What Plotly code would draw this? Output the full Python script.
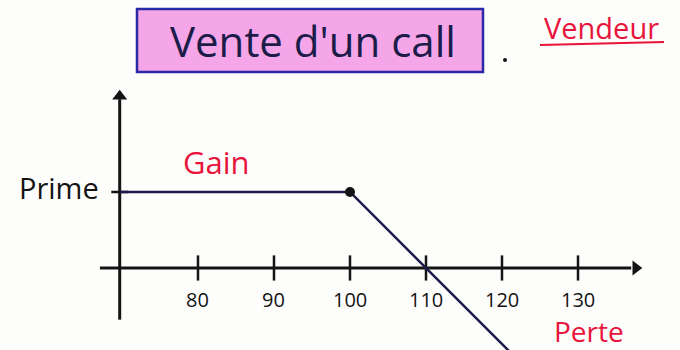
import plotly.graph_objects as go

# Short call payoff (seller side): premium kept up to the strike, then a loss
strike_ticks = [80, 90, 100, 110, 120, 130]
tick_labels = ["80", "90", "100", "110", "120", "130"]
spot_points = [69.7, 100, 123]
payoff_points = [10, 10, -13]
strike_price = 100
premium = 10

INK = "#141414"
NAVY = "#1c1c48"
RED = "#e8143c"
FONT = "Open Sans"

fig = go.Figure()

# Vertical (payoff) axis with arrowhead
fig.add_trace(go.Scatter(x=[69.7, 69.7], y=[-6.8, 22.2], mode="lines",
                         line=dict(color=INK, width=3), hoverinfo="skip"))
fig.add_trace(go.Scatter(x=[69.7], y=[22.6], mode="markers",
                         marker=dict(symbol="triangle-up", size=13, color=INK),
                         hoverinfo="skip"))

# Horizontal (spot price) axis with arrowhead
fig.add_trace(go.Scatter(x=[67.1, 137.0], y=[0, 0], mode="lines",
                         line=dict(color=INK, width=3), hoverinfo="skip"))
fig.add_trace(go.Scatter(x=[137.6], y=[0], mode="markers",
                         marker=dict(symbol="triangle-right", size=13, color=INK),
                         hoverinfo="skip"))

# Tick marks on the spot axis
fig.add_trace(go.Scatter(x=strike_ticks, y=[0] * len(strike_ticks), mode="markers",
                         marker=dict(symbol="line-ns", size=18,
                                     line=dict(color=INK, width=2.5)),
                         hoverinfo="skip"))

# Premium tick on the payoff axis
fig.add_trace(go.Scatter(x=[69.7], y=[premium], mode="markers",
                         marker=dict(symbol="line-ew", size=12,
                                     line=dict(color=INK, width=2.5)),
                         hoverinfo="skip"))

# Payoff line
fig.add_trace(go.Scatter(x=spot_points, y=payoff_points, mode="lines",
                         line=dict(color=NAVY, width=2.5), hoverinfo="skip"))

# Strike point
fig.add_trace(go.Scatter(x=[strike_price], y=[premium], mode="markers",
                         marker=dict(size=10, color=INK), hoverinfo="skip"))

center = dict(xanchor="center", yanchor="middle", showarrow=False)

annotations = []
for s, lab in zip(strike_ticks, tick_labels):
    annotations.append(dict(x=s, y=-4.2, xref="x", yref="y", text=lab, **center,
                            font=dict(family=FONT, size=20, color=INK)))

annotations += [
    dict(x=67.3, y=10.6, xref="x", yref="y", text="Prime", showarrow=False,
         xanchor="right", yanchor="middle",
         font=dict(family=FONT, size=29, color=INK)),
    dict(x=82.5, y=13.9, xref="x", yref="y", text="Gain", **center,
         font=dict(family=FONT, size=31, color=RED)),
    dict(x=131.4, y=-8.3, xref="x", yref="y", text="Perte", **center,
         font=dict(family=FONT, size=28, color=RED)),
    dict(x=313 / 680, y=1 - 40 / 350, xref="paper", yref="paper",
         text="Vente d'un call", **center,
         font=dict(family=FONT, size=42, color=NAVY)),
    dict(x=601 / 680, y=1 - 27 / 350, xref="paper", yref="paper",
         text="Vendeur", **center,
         font=dict(family=FONT, size=29, color=RED)),
]

shapes = [
    dict(type="rect", xref="paper", yref="paper",
         x0=137 / 680, x1=483 / 680, y0=1 - 72 / 350, y1=1 - 9 / 350,
         fillcolor="#f4a6e8", line=dict(color="#2a2aa8", width=2.5), layer="below"),
    dict(type="line", xref="paper", yref="paper",
         x0=540 / 680, x1=664 / 680, y0=1 - 45 / 350, y1=1 - 42 / 350,
         line=dict(color=RED, width=2)),
    dict(type="circle", xref="paper", yref="paper",
         x0=503 / 680, x1=507 / 680, y0=1 - 62 / 350, y1=1 - 58 / 350,
         fillcolor=INK, line=dict(width=0)),
]

fig.update_layout(
    width=680, height=350, autosize=False,
    margin=dict(l=0, r=0, t=0, b=0),
    paper_bgcolor="#fdfdfb", plot_bgcolor="#fdfdfb",
    showlegend=False,
    xaxis=dict(range=[53.95, 143.42], visible=False, fixedrange=True),
    yaxis=dict(range=[-10.79, 35.26], visible=False, fixedrange=True),
    annotations=annotations, shapes=shapes,
)

fig.write_html("out.html")
